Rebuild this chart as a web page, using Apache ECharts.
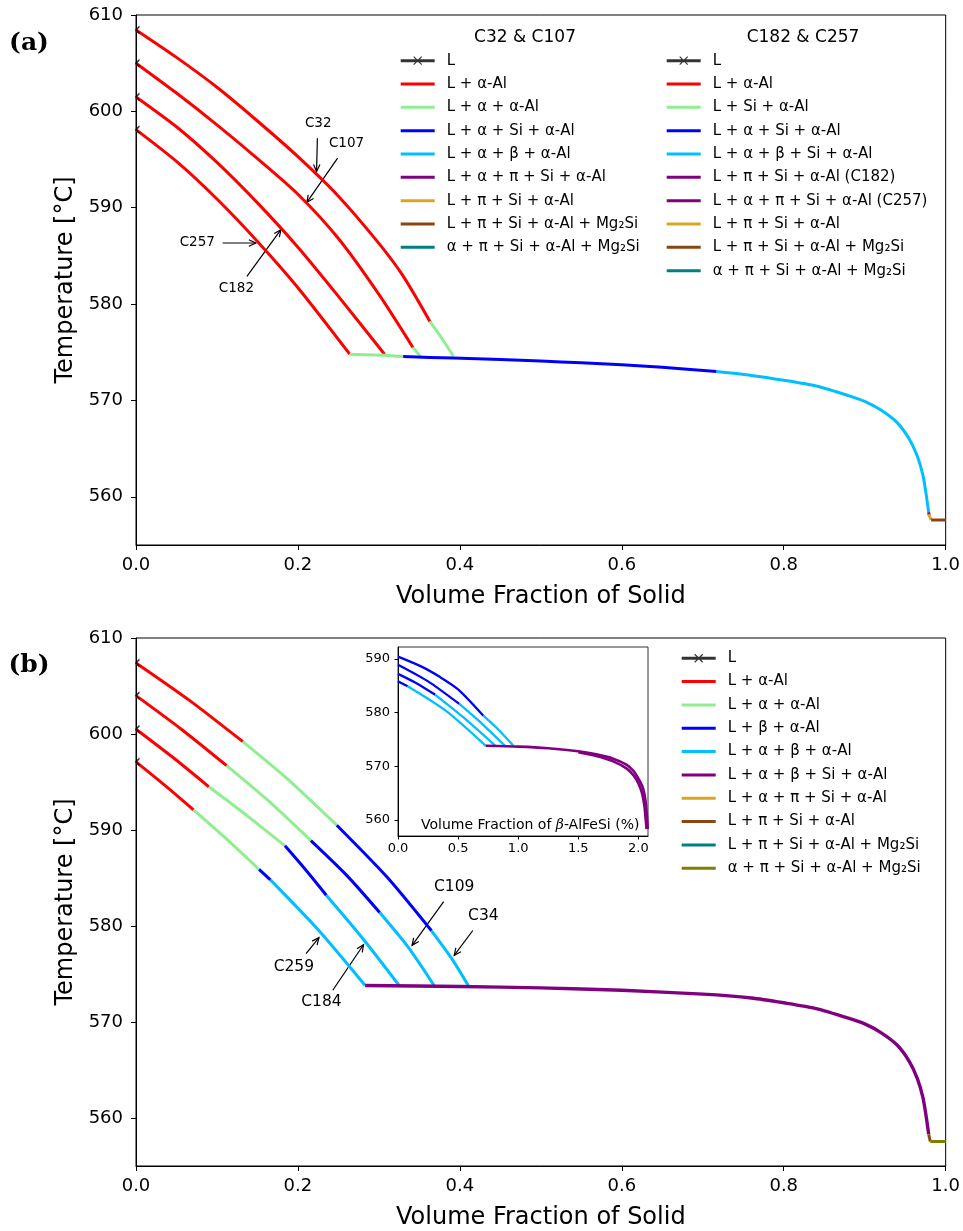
<!DOCTYPE html>
<html><head><meta charset="utf-8">
<script src="https://cdn.jsdelivr.net/npm/echarts@6/dist/echarts.min.js"></script>
<style>html,body{margin:0;padding:0;background:#fff}#c{width:963px;height:1231px}</style>
</head><body><div id="c"></div>
<script>
// ---------------- tick labels ----------------
const xTicks = [0, 0.2, 0.4, 0.6, 0.8, 1.0];
const yTicks = [560, 570, 580, 590, 600, 610];
const insetXTicks = [0, 0.5, 1.0, 1.5, 2.0];
const insetYTicks = [560, 570, 580, 590];

// ---------------- panel (a) data: [volume fraction solid, T °C] ----------------
const aLiquidus = [[0, 608.45], [0, 605.0], [0, 601.5], [0, 598.1]];
const aC32Red = [[0,608.45],[0.05,605.6],[0.1,602.5],[0.15,599.0],[0.2,595.3],[0.25,591.2],[0.3,586.3],[0.33,582.9],[0.363,578.2]];
const aC32Green = [[0.363,578.2],[0.378,576.4],[0.392,574.6]];
const aC107Red = [[0,605.0],[0.05,601.9],[0.1,598.6],[0.15,595.1],[0.2,591.4],[0.25,586.8],[0.3,581.0],[0.342,575.5]];
const aC107Green = [[0.342,575.5],[0.351,574.6]];
const aC182Red = [[0,601.5],[0.05,598.4],[0.1,594.7],[0.15,590.5],[0.2,585.9],[0.25,580.8],[0.307,574.8]];
const aC257Red = [[0,598.1],[0.05,594.8],[0.1,590.9],[0.15,586.5],[0.2,581.7],[0.264,574.8]];
const aSiGreen = [[0.264,574.8],[0.307,574.7],[0.33,574.55]];
const aCommonBlue = [[0.33,574.55],[0.392,574.4],[0.45,574.25],[0.5,574.1],[0.55,573.9],[0.6,573.7],[0.65,573.45],[0.717,573.0]];
const aCommonCyan = [[0.717,573.0],[0.76,572.6],[0.8,572.1],[0.84,571.5],[0.88,570.5],[0.9,569.9],[0.92,569.0],[0.94,567.7],[0.955,566.0],[0.965,564.2],[0.972,562.2],[0.976,560.2],[0.979,558.4]];
const aPurple = [[0.979,558.4],[0.9795,558.1]];
const aGold = [[0.979,558.2],[0.982,557.6]];
const aBrown = [[0.982,557.6],[1.0,557.6]];

// ---------------- panel (b) data ----------------
const bLiquidus = [[0, 607.4], [0, 604.0], [0, 600.5], [0, 597.1]];
const bC34Red = [[0,607.4],[0.066,603.5],[0.132,599.2]];
const bC34Green = [[0.132,599.2],[0.19,595.1],[0.248,590.5]];
const bC34Blue = [[0.248,590.5],[0.31,585.1],[0.365,579.5]];
const bC34Cyan = [[0.365,579.5],[0.39,576.6],[0.411,573.7]];
const bC109Red = [[0,604.0],[0.056,600.5],[0.112,596.7]];
const bC109Green = [[0.112,596.7],[0.164,593.0],[0.216,588.9]];
const bC109Blue = [[0.216,588.9],[0.26,585.3],[0.301,581.4]];
const bC109Cyan = [[0.301,581.4],[0.337,577.7],[0.369,573.7]];
const bC184Red = [[0,600.5],[0.045,597.6],[0.09,594.5]];
const bC184Green = [[0.09,594.5],[0.137,591.5],[0.184,588.35]];
const bC184Blue = [[0.184,588.35],[0.21,585.8],[0.235,583.2]];
const bC184Cyan = [[0.235,583.2],[0.28,578.7],[0.326,573.7]];
const bC259Red = [[0,597.1],[0.035,594.7],[0.071,592.1]];
const bC259Green = [[0.071,592.1],[0.11,589.2],[0.152,585.9]];
const bC259Blue = [[0.152,585.9],[0.166,584.8]];
const bC259Cyan = [[0.166,584.8],[0.225,579.6],[0.283,573.8]];
const bPurple = [[0.283,573.8],[0.4,573.7],[0.5,573.55],[0.6,573.3],[0.7,572.9],[0.76,572.5],[0.8,572.0],[0.84,571.4],[0.88,570.4],[0.9,569.8],[0.92,568.9],[0.94,567.6],[0.955,565.9],[0.965,564.1],[0.972,562.1],[0.976,560.1],[0.979,558.3]];
const bBrown = [[0.979,558.3],[0.981,557.55]];
const bOlive = [[0.981,557.55],[1.0,557.55]];

// ---------------- inset data: [beta-AlFeSi volume %, T °C] ----------------
const iC34Blue = [[0,590.4],[0.2,588.5],[0.35,586.6],[0.5,584.3],[0.71,579.4]];
const iC34Cyan = [[0.71,579.4],[0.84,576.7],[0.96,573.8]];
const iC109Blue = [[0,588.9],[0.25,585.8],[0.51,581.6]];
const iC109Cyan = [[0.51,581.6],[0.7,577.9],[0.89,573.8]];
const iC184Blue = [[0,587.2],[0.15,585.5],[0.31,583.3]];
const iC184Cyan = [[0.31,583.3],[0.55,579.0],[0.81,573.8]];
const iC259Blue = [[0,585.8],[0.08,584.9]];
const iC259Cyan = [[0.08,584.9],[0.4,580.3],[0.73,573.8]];
const iPurpleA = [[0.73,573.8],[1.0,573.65],[1.25,573.35],[1.5,572.8],[1.65,572.2],[1.79,571.4],[1.9,570.3],[1.96,569.1],[2.01,567.3],[2.04,565.8],[2.06,563.5],[2.072,560.5],[2.078,558.3]];
const iPurpleB = [[1.5,572.6],[1.65,571.9],[1.79,570.9],[1.9,569.6],[1.96,568.3],[2.0,566.8],[2.03,565.0],[2.05,562.6],[2.062,559.8],[2.068,558.3]];

// ---------------- legend names ----------------
const legendA1 = ['L','L + α-Al','L + α + α-Al','L + α + Si + α-Al','L + α + β + α-Al','L + α + π + Si + α-Al','L + π + Si + α-Al','L + π + Si + α-Al + Mg₂Si','α + π + Si + α-Al + Mg₂Si'];
const legendA2 = ['L','L + α-Al','L + Si + α-Al','L + α + Si + α-Al','L + α + β + Si + α-Al','L + π + Si + α-Al (C182)','L + α + π + Si + α-Al (C257)','L + π + Si + α-Al','L + π + Si + α-Al + Mg₂Si','α + π + Si + α-Al + Mg₂Si'];
const legendB = ['L','L + α-Al','L + α + α-Al','L + β + α-Al','L + α + β + α-Al','L + α + β + Si + α-Al','L + α + π + Si + α-Al','L + π + Si + α-Al','L + π + Si + α-Al + Mg₂Si','α + π + Si + α-Al + Mg₂Si'];

// ---------------- styling ----------------
const FONT = 'DejaVu Sans';
const C = {red:'#ff0000', green:'#90ee90', blue:'#0000ff', cyan:'#00bfff', purple:'#800080', gold:'#daa520', brown:'#8b4513', teal:'#008080', olive:'#808000', black:'#000000'};
const B = '#b'; // suffix for panel (b) series names (stripped in legend)

function ln(name, color, data, gi, width) {
  return {type:'line', name, data, xAxisIndex:gi, yAxisIndex:gi, showSymbol:false, symbol:'none',
    color, itemStyle:{color}, lineStyle:{color, width: width || 3, cap:'butt', join:'round'},
    smooth:0.25, silent:true, animation:false, clip:true};
}
function liq(name, data, gi) {
  return {type:'scatter', name, data, xAxisIndex:gi, yAxisIndex:gi,
    symbol:'path://M1,0L0,1L1,2', symbolSize:[3.5,7], symbolOffset:[1.75,0],
    color:'#000', itemStyle:{color:'rgba(0,0,0,0)', borderColor:'#000', borderWidth:1.4}, silent:true, z:4};
}

const series = [
  // panel (a)
  liq('L', aLiquidus, 0),
  ln('L + α-Al', C.red, aC32Red, 0), ln('L + α-Al', C.red, aC107Red, 0),
  ln('L + α-Al', C.red, aC182Red, 0), ln('L + α-Al', C.red, aC257Red, 0),
  ln('L + α + α-Al', C.green, aC32Green, 0), ln('L + α + α-Al', C.green, aC107Green, 0),
  ln('L + Si + α-Al', C.green, aSiGreen, 0),
  ln('L + α + Si + α-Al', C.blue, aCommonBlue, 0),
  ln('L + α + β + α-Al', C.cyan, aCommonCyan, 0),
  ln('L + α + β + Si + α-Al', C.cyan, [], 0),
  ln('L + α + π + Si + α-Al', C.purple, aPurple, 0),
  ln('L + π + Si + α-Al (C182)', C.purple, [], 0),
  ln('L + α + π + Si + α-Al (C257)', C.purple, [], 0),
  ln('L + π + Si + α-Al', C.gold, aGold, 0),
  ln('L + π + Si + α-Al + Mg₂Si', C.brown, aBrown, 0),
  ln('α + π + Si + α-Al + Mg₂Si', C.teal, [], 0),
  // panel (b)
  liq('L'+B, bLiquidus, 1),
  ln('L + α-Al'+B, C.red, bC34Red, 1), ln('L + α-Al'+B, C.red, bC109Red, 1),
  ln('L + α-Al'+B, C.red, bC184Red, 1), ln('L + α-Al'+B, C.red, bC259Red, 1),
  ln('L + α + α-Al'+B, C.green, bC34Green, 1), ln('L + α + α-Al'+B, C.green, bC109Green, 1),
  ln('L + α + α-Al'+B, C.green, bC184Green, 1), ln('L + α + α-Al'+B, C.green, bC259Green, 1),
  ln('L + β + α-Al'+B, C.blue, bC34Blue, 1), ln('L + β + α-Al'+B, C.blue, bC109Blue, 1),
  ln('L + β + α-Al'+B, C.blue, bC184Blue, 1), ln('L + β + α-Al'+B, C.blue, bC259Blue, 1),
  ln('L + α + β + α-Al'+B, C.cyan, bC34Cyan, 1), ln('L + α + β + α-Al'+B, C.cyan, bC109Cyan, 1),
  ln('L + α + β + α-Al'+B, C.cyan, bC184Cyan, 1), ln('L + α + β + α-Al'+B, C.cyan, bC259Cyan, 1),
  ln('L + α + β + Si + α-Al'+B, C.purple, bPurple, 1, 3.4),
  ln('L + α + π + Si + α-Al'+B, C.gold, [], 1),
  ln('L + π + Si + α-Al'+B, C.brown, bBrown, 1),
  ln('L + π + Si + α-Al + Mg₂Si'+B, C.teal, [], 1),
  ln('α + π + Si + α-Al + Mg₂Si'+B, C.olive, bOlive, 1),
  // inset
  ln('L + β + α-Al'+B, C.blue, iC34Blue, 2, 2.3), ln('L + α + β + α-Al'+B, C.cyan, iC34Cyan, 2, 2.3),
  ln('L + β + α-Al'+B, C.blue, iC109Blue, 2, 2.3), ln('L + α + β + α-Al'+B, C.cyan, iC109Cyan, 2, 2.3),
  ln('L + β + α-Al'+B, C.blue, iC184Blue, 2, 2.3), ln('L + α + β + α-Al'+B, C.cyan, iC184Cyan, 2, 2.3),
  ln('L + β + α-Al'+B, C.blue, iC259Blue, 2, 2.3), ln('L + α + β + α-Al'+B, C.cyan, iC259Cyan, 2, 2.3),
  ln('L + α + β + Si + α-Al'+B, C.purple, iPurpleA, 2, 2.6),
  ln('L + α + β + Si + α-Al'+B, C.purple, iPurpleB, 2, 2.6)
];

// legend icons: 41x10 box, 34px line, optional x marker
const ICON_LINE = 'path://M0,0L0.01,0L0,0.01Z M41,10L40.99,10L41,9.99Z M0,3.5L34,3.5L34,6.5L0,6.5Z';
const ICON_L = ICON_LINE + ' M12.6,1.4L13.4,0.6L21.4,8.6L20.6,9.4Z M20.6,0.6L21.4,1.4L13.4,9.4L12.6,8.6Z';

function legend(names, suffix, left, top) {
  return {
    orient:'vertical', left, top, padding:0, itemGap:0, itemWidth:41, itemHeight:10,
    icon: ICON_LINE, selectedMode:false,
    itemStyle:{borderWidth:0},
    textStyle:{fontFamily:FONT, fontSize:15, color:'#000', lineHeight:23.33},
    formatter: n => n.replace('#b',''),
    data: names.map(n => n === 'L' ? {name:n+suffix, icon:ICON_L, itemStyle:{color:'#000', borderWidth:0}} : {name:n+suffix})
  };
}

function xAxis(gi, min, max, ticks, fs, margin, tickLen, name) {
  return {type:'value', gridIndex:gi, min, max,
    axisLine:{show:true, onZero:false, lineStyle:{color:'#000', width:1}},
    axisTick:{show:true, inside:false, length:tickLen, customValues:ticks, lineStyle:{color:'#000', width:1}},
    axisLabel:{customValues:ticks, formatter:v => Number(v).toFixed(1), fontFamily:FONT, fontSize:fs, color:'#000', margin},
    splitLine:{show:false},
    name: name || '', nameLocation:'middle', nameGap:40,
    nameTextStyle:{fontFamily:FONT, fontSize:24, color:'#000'}};
}
function yAxis(gi, min, max, ticks, fs, margin, tickLen, name) {
  return {type:'value', gridIndex:gi, min, max,
    axisLine:{show:true, onZero:false, lineStyle:{color:'#000', width:1}},
    axisTick:{show:true, inside:false, length:tickLen, customValues:ticks, lineStyle:{color:'#000', width:1}},
    axisLabel:{customValues:ticks, formatter:v => String(Math.round(v)), fontFamily:FONT, fontSize:fs, color:'#000', margin},
    splitLine:{show:false},
    name: name || '', nameLocation:'middle', nameGap:57,
    nameTextStyle:{fontFamily:FONT, fontSize:24, color:'#000'}};
}

const chart = echarts.init(document.getElementById('c'), null, {renderer:'canvas'});
chart.setOption({
  animation:false,
  backgroundColor:'#fff',
  grid:[
    {left:136, top:15, width:810, height:530, show:true, borderColor:'#000', borderWidth:1},
    {left:136, top:638, width:810, height:529, show:true, borderColor:'#000', borderWidth:1},
    {left:398, top:647, width:250, height:189, show:true, borderColor:'#333', borderWidth:1, backgroundColor:'#fff'}
  ],
  xAxis:[
    xAxis(0, 0, 1, xTicks, 18, 11, 5, 'Volume Fraction of Solid'),
    xAxis(1, 0, 1, xTicks, 18, 11, 5, 'Volume Fraction of Solid'),
    xAxis(2, 0, 2.08, insetXTicks, 13, 6, 3.5, '')
  ],
  yAxis:[
    yAxis(0, 555, 610, yTicks, 18, 13, 5, 'Temperature [°C]'),
    yAxis(1, 555, 610, yTicks, 18, 13, 5, 'Temperature [°C]'),
    yAxis(2, 557, 592.2, insetYTicks, 13, 8, 3.5, '')
  ],
  legend:[
    legend(legendA1, '', 400.7, 49),
    legend(legendA2, '', 666.7, 49),
    legend(legendB, B, 681.7, 646.6)
  ],
  series
});

// ---------------- annotations (data coordinates) ----------------
const annotA = [
  {label:'C32',  at:[0.225,598.78], from:[0.224,597.2],  to:[0.223,593.76]},
  {label:'C107', at:[0.260,596.63], from:[0.249,595.15], to:[0.211,590.55]},
  {label:'C257', at:[0.0757,586.34], from:[0.107,586.34], to:[0.148,586.34]},
  {label:'C182', at:[0.124,581.57], from:[0.137,582.88], to:[0.179,587.72]}
];
const annotB = [
  {label:'C109', at:[0.393,584.04], from:[0.380,582.54], to:[0.341,577.98]},
  {label:'C34',  at:[0.429,581.09], from:[0.416,579.53], to:[0.393,576.94]},
  {label:'C259', at:[0.195,575.74], from:[0.210,577.12], to:[0.226,578.78]},
  {label:'C184', at:[0.229,572.11], from:[0.243,573.31], to:[0.281,578.05]}
];

function px(gi, p) { return chart.convertToPixel({xAxisIndex:gi, yAxisIndex:gi}, p); }
function arrow(p0, p1) {
  const dx = p1[0]-p0[0], dy = p1[1]-p0[1], L = Math.hypot(dx, dy), ux = dx/L, uy = dy/L;
  const hl = 7, hw = 3.2, bx = p1[0]-ux*hl, by = p1[1]-uy*hl;
  return [
    {type:'polyline', shape:{points:[p0, p1]}, style:{stroke:'#000', lineWidth:1.2, fill:'none'}, silent:true},
    {type:'polyline', shape:{points:[[bx-uy*hw, by+ux*hw], p1, [bx+uy*hw, by-ux*hw]]}, style:{stroke:'#000', lineWidth:1.2, fill:'none'}, silent:true}
  ];
}
const g = [];
function addAnnots(list, gi, fs) {
  list.forEach(a => {
    const t = px(gi, a.at);
    g.push({type:'text', x:t[0], y:t[1], silent:true, style:{text:a.label, font:fs+'px "DejaVu Sans"', fill:'#000', align:'center', verticalAlign:'middle'}});
    g.push(...arrow(px(gi, a.from), px(gi, a.to)));
  });
}
addAnnots(annotA, 0, 13.5);
addAnnots(annotB, 1, 15.5);
g.push({type:'text', x:29, y:43, silent:true, style:{text:'(a)', font:'bold 25px "DejaVu Serif"', fill:'#000', align:'center', verticalAlign:'middle'}});
g.push({type:'text', x:29, y:665, silent:true, style:{text:'(b)', font:'bold 25px "DejaVu Serif"', fill:'#000', align:'center', verticalAlign:'middle'}});
g.push({type:'text', x:525, y:38, silent:true, style:{text:'C32 & C107', font:'17px "DejaVu Sans"', fill:'#000', align:'center', verticalAlign:'middle'}});
g.push({type:'text', x:803, y:38, silent:true, style:{text:'C182 & C257', font:'17px "DejaVu Sans"', fill:'#000', align:'center', verticalAlign:'middle'}});
const il = px(2, [1.1, 559.0]);
g.push({type:'text', x:il[0], y:il[1], silent:true, z:100, style:{
  text:'Volume Fraction of {i|β}-AlFeSi (%)', font:'14px "DejaVu Sans"', fill:'#000', align:'center', verticalAlign:'middle',
  rich:{i:{fontStyle:'italic', fontFamily:'DejaVu Serif', fontSize:14, fill:'#000'}}}});
chart.setOption({graphic:g});
</script></body></html>
